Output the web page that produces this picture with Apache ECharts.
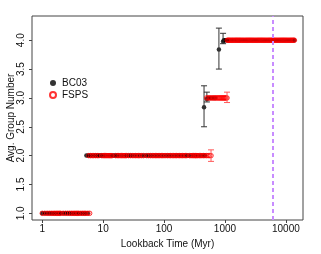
<!DOCTYPE html>
<html>
<head>
<meta charset="utf-8">
<script src="https://cdn.jsdelivr.net/npm/echarts@6/dist/echarts.min.js"></script>
<style>html,body{margin:0;padding:0;background:#fff}#c{width:321px;height:254px}</style>
</head>
<body>
<div id="c"></div>
<script>
// ---- data ----
const xTicks = [1, 10, 100, 1000, 10000];
const yTicks = [1.0, 1.5, 2.0, 2.5, 3.0, 3.5, 4.0];
const levels = [1, 2, 3, 4];

const bc03Level1 = [1.0,1.1,1.2,1.3,1.4,1.5,1.6,1.7,1.8,1.9,2.0,2.2,2.4,2.6,2.8,3.0,3.2,3.4,3.6,3.8,4.0,4.3,4.6,4.9,5.2,5.6];
const bc03Level2 = [5.3,5.7,6.1,6.5,7,7.5,8,8.5,9,9.5,10,11,12,13,14,15,16,17,18,20,22,24,26,28,30,33,36,40,44,48,52,57,62,68,75,82,90,100,110,120,130,145,160,175,190,210,230,250,275,300,330,360,400,440,470];
const bc03Level3 = [530,555,580,610,640,670,700];
const bc03Level4 = [960,1000,1050,1100,1150,1200,1300,1400,1500,1600,1700,1800,1950,2100,2250,2400,2600,2800,3000,3200,3400,3700,4000,4300,4600,5000,5400,5800,6200,6700,7200,7700,8200,8800,9400,10000,10700,11400,12100,12900,13700];
const bc03ExtraTime = [453, 504, 795, 930];
const bc03ExtraValue = [2.84, 2.98, 3.84, 3.98];
const bc03ErrTime = [453, 504, 795, 930];
const bc03ErrLow = [2.50, 2.93, 3.50, 3.94];
const bc03ErrHigh = [3.21, 3.10, 4.21, 4.12];

const fspsLevel1 = [1.0,1.1,1.2,1.3,1.4,1.5,1.6,1.7,1.8,1.9,2.0,2.2,2.4,2.6,2.8,3.0,3.2,3.4,3.6,3.8,4.0,4.3,4.6,4.9,5.2,5.6,6.0];
const fspsLevel2 = [5.8,6.2,6.6,7,7.5,8,8.5,9.5,10,10.5,11,11.5,12,12.5,13,13.5,14,16,17,18,19,20,21,22,23,24,26,28,30,32,34,36,38,40,43,46,52,56,60,64,68,72,76,80,85,90,95,100,107,114,121,128,136,144,152,160,170,180,190,200,212,224,236,262,276,290,305,320,330,345,360,380,400,420,445,470,500,530,560,590];
const fspsLevel3 = [500,530,560,590,620,650,680,710,740,770,800,830,860,890,920,950,980,1010,1040,1080];
const fspsLevel4 = [1090,1130,1170,1210,1260,1310,1360,1420,1480,1540,1600,1670,1740,1810,1890,1970,2050,2140,2230,2320,2420,2520,2630,2740,2860,2980,3110,3240,3380,3520,3670,3830,3990,4160,4340,4520,4710,4910,5120,5340,5560,5800,6040,6300,6570,6850,7140,7440,7760,8090,8430,8790,9160,9550,9960,10380,10820,11280,11760,12260,12780,13320,13800];
const fspsErrTime = [590, 1080];
const fspsErrLow = [1.90, 2.92];
const fspsErrHigh = [2.10, 3.10];

const universeAge = 6150; // dashed vertical line (Myr)

// ---- build series data ----
function build(levelTimes, extraT, extraV) {
  const out = [];
  levelTimes.forEach((ts, i) => ts.forEach(t => out.push([t, levels[i]])));
  if (extraT) extraT.forEach((t, i) => out.push([t, extraV[i]]));
  return out;
}
const bc03Data = build([bc03Level1, bc03Level2, bc03Level3, bc03Level4], bc03ExtraTime, bc03ExtraValue);
const fspsData = build([fspsLevel1, fspsLevel2, fspsLevel3, fspsLevel4]);
const bc03Err = bc03ErrTime.map((t, i) => [t, bc03ErrLow[i], bc03ErrHigh[i]]);
const fspsErr = fspsErrTime.map((t, i) => [t, fspsErrLow[i], fspsErrHigh[i]]);

function errRender(color) {
  return function (params, api) {
    const x = api.value(0);
    const lo = api.coord([x, api.value(1)]);
    const hi = api.coord([x, api.value(2)]);
    const w = 3;
    const st = { stroke: color, lineWidth: 1 };
    return {
      type: 'group',
      children: [
        { type: 'line', shape: { x1: lo[0], y1: lo[1], x2: hi[0], y2: hi[1] }, style: st },
        { type: 'line', shape: { x1: lo[0] - w, y1: lo[1], x2: lo[0] + w, y2: lo[1] }, style: st },
        { type: 'line', shape: { x1: hi[0] - w, y1: hi[1], x2: hi[0] + w, y2: hi[1] }, style: st }
      ]
    };
  };
}

const FONT = 'Liberation Sans, Arial, sans-serif';
const chart = echarts.init(document.getElementById('c'), null, { renderer: 'canvas' });
chart.setOption({
  animation: false,
  backgroundColor: '#fff',
  grid: { left: 32, top: 16, right: 18, bottom: 34, outerBoundsMode: 'none', containLabel: false, show: true, borderColor: '#444', borderWidth: 1 },
  legend: {
    orient: 'vertical', left: 44, top: 73, itemWidth: 6, itemHeight: 6, itemGap: 2,
    textStyle: { fontFamily: FONT, fontSize: 10, color: '#111', padding: [0, 0, 0, 1] },
    data: ['BC03', 'FSPS']
  },
  xAxis: {
    type: 'log', logBase: 10, min: 0.678, max: 19100,
    name: 'Lookback Time (Myr)', nameLocation: 'middle', nameGap: 19,
    nameTextStyle: { fontFamily: FONT, fontSize: 10, color: '#111' },
    axisLine: { show: false },
    axisTick: { show: true, inside: false, length: 3, lineStyle: { color: '#444' }, customValues: xTicks },
    axisLabel: { fontFamily: FONT, fontSize: 10, color: '#111', margin: 4, hideOverlap: false, customValues: xTicks, formatter: v => String(Math.round(v)) },
    splitLine: { show: false }
  },
  yAxis: {
    type: 'value', min: 0.884, max: 4.42,
    name: 'Avg. Group Number', nameLocation: 'middle', nameGap: 16, nameMoveOverlap: false,
    nameTextStyle: { fontFamily: FONT, fontSize: 10, color: '#111' },
    axisLine: { show: false },
    axisTick: { show: true, inside: false, length: 3, lineStyle: { color: '#444' }, customValues: yTicks },
    axisLabel: { fontFamily: FONT, fontSize: 10, color: '#111', rotate: 90, margin: 6, hideOverlap: false, customValues: yTicks, formatter: v => v.toFixed(1) },
    splitLine: { show: false }
  },
  series: [
    {
      name: 'BC03', type: 'scatter', data: bc03Data, symbol: 'circle', symbolSize: 4.5,
      itemStyle: { color: '#000' }, z: 2,
      markLine: {
        silent: true, symbol: 'none', label: { show: false },
        lineStyle: { color: '#c88cff', type: [4, 3], width: 2 },
        data: [{ xAxis: universeAge }]
      }
    },
    {
      name: 'BC03err', type: 'custom', data: bc03Err, encode: { x: 0, y: [1, 2] },
      renderItem: errRender('#333'), z: 3
    },
    {
      name: 'FSPS', type: 'scatter', data: fspsData, symbol: 'circle', symbolSize: 4.5,
      itemStyle: { color: 'rgba(255,0,0,0)', borderColor: '#ff0000', borderWidth: 1 }, z: 4
    },
    {
      name: 'FSPSerr', type: 'custom', data: fspsErr, encode: { x: 0, y: [1, 2] },
      renderItem: errRender('#ff5a5a'), z: 5
    }
  ]
});
</script>
</body>
</html>
